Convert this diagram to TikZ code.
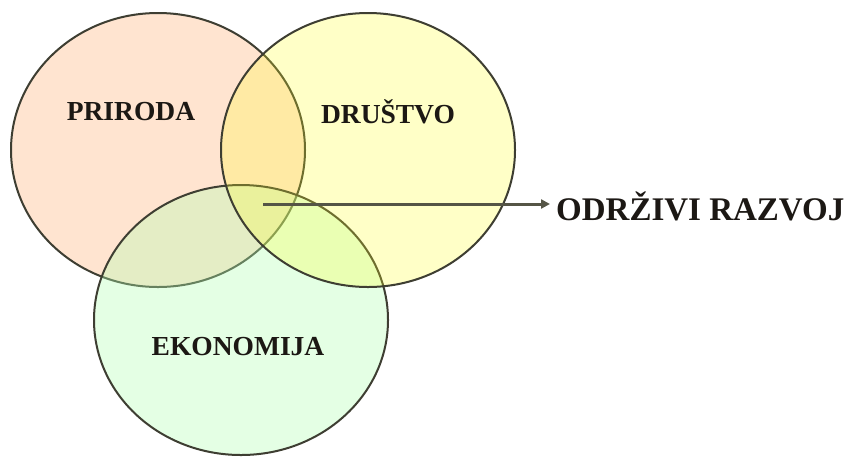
\documentclass[tikz,border=0pt]{standalone}
\usepackage{fontspec}
\setmainfont{Liberation Serif}
\usetikzlibrary{shapes.geometric,arrows.meta}
\definecolor{peachc}{RGB}{255,228,208}
\definecolor{yellowc}{RGB}{255,255,35}
\definecolor{greenc}{RGB}{178,255,178}
\definecolor{edge}{RGB}{62,62,50}
\definecolor{arrowline}{RGB}{85,85,70}
\definecolor{txt}{RGB}{28,24,20}
\tikzset{
  venn/.style={ellipse, inner sep=0pt, minimum width=294pt, minimum height=274pt, draw=edge, line width=2pt},
  lbl/.style={inner sep=0pt, text=txt, font=\fontsize{27.5}{30}\selectfont\bfseries},
  biglbl/.style={inner sep=0pt, text=txt, font=\fontsize{33}{36}\selectfont\bfseries},
  conn/.style={draw=arrowline, line width=3pt, -{Triangle[length=9pt,width=9pt]}}
}
\begin{document}
\begin{tikzpicture}[x=1pt,y=-1pt]
\useasboundingbox (0,0) rectangle (850,456);
\fill[white] (0,0) rectangle (850,456);
\node[venn, fill=peachc] (p) at (158,150) {};
\node[venn, fill=greenc, fill opacity=0.35, minimum height=270pt] (e) at (241,320) {};
\node[venn, fill=yellowc, fill opacity=0.25] (d) at (368,150) {};
% labels
\node[lbl] (tp) at (131,112) {PRIRODA};
\node[lbl] (td) at (388,112) {DRUŠTVO};
\node[lbl] (te) at (238,347) {EKONOMIJA};
\node[biglbl, anchor=west] (oz) at (556,206) {ODRŽIVI RAZVOJ};
\coordinate (s) at (263,204);
\coordinate (t) at (550,204);
\draw[conn] (s) -- (t);
\end{tikzpicture}
\end{document}
